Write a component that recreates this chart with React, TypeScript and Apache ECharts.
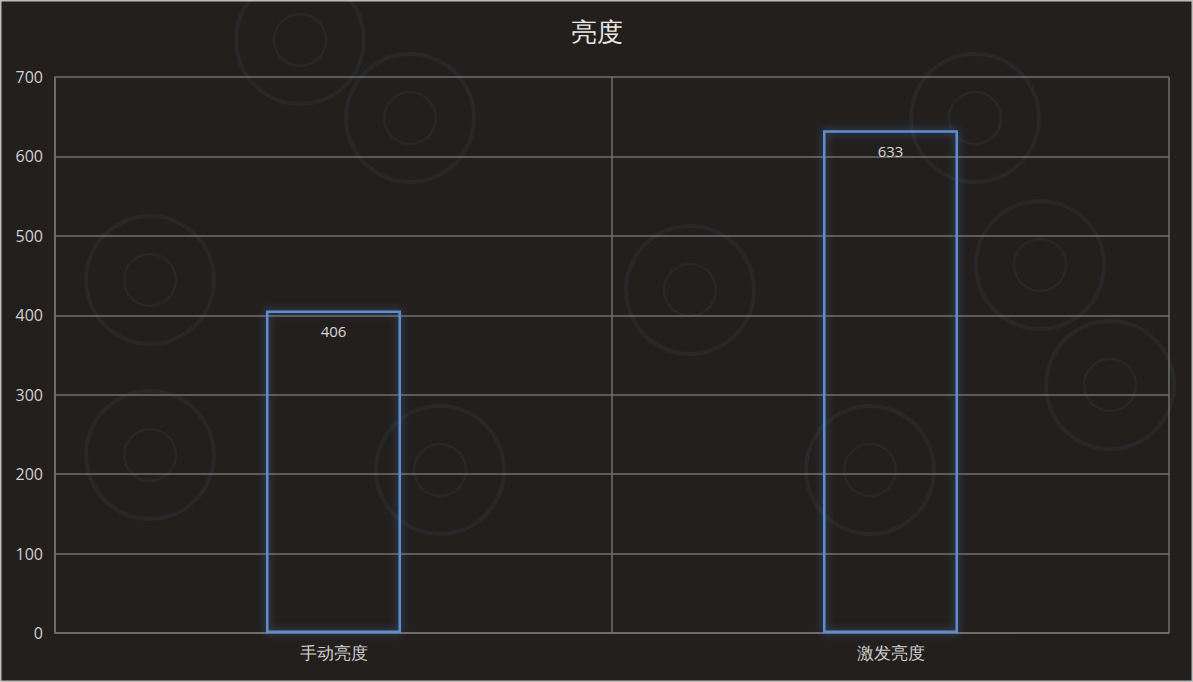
import React, { useEffect, useRef } from "react";
import * as echarts from "echarts";

const title = "亮度";
const categories = ["手动亮度", "激发亮度"];
const values = [406, 633];
const yTicks = { min: 0, max: 700, interval: 100 };

// decorative faint "O" shapes in the background watermark
const rings: [number, number][] = [
  [410, 118], [440, 470], [975, 118], [1040, 265], [690, 290],
  [150, 280], [150, 455], [870, 470], [1110, 385], [300, 40],
];

export default function App() {
  const ref = useRef<HTMLDivElement>(null);
  useEffect(() => {
    const chart = echarts.init(ref.current!, undefined, { renderer: "svg" });
    const ringGraphics: any[] = [];
    rings.forEach(([x, y]) => {
      ringGraphics.push({
        type: "circle", shape: { cx: x, cy: y, r: 64 }, silent: true, z: -10,
        style: { fill: "none", stroke: "rgba(48,56,68,0.35)", lineWidth: 4 },
      });
      ringGraphics.push({
        type: "circle", shape: { cx: x, cy: y, r: 26 }, silent: true, z: -10,
        style: { fill: "none", stroke: "rgba(48,56,68,0.35)", lineWidth: 2.5 },
      });
    });
    chart.setOption({
      animation: false,
      backgroundColor: "#231f1d",
      title: {
        text: title,
        left: "center",
        top: 14,
        textStyle: { color: "#e8e8e8", fontSize: 26, fontWeight: "normal", fontFamily: "serif" },
      },
      graphic: [
        ...ringGraphics,
        {
          type: "rect", shape: { x: 0.5, y: 0.5, width: 1192, height: 681 }, silent: true, z: 100,
          style: { fill: "none", stroke: "#bdbdbd", lineWidth: 2 },
        },
      ],
      grid: { left: 55, right: 24, top: 77, bottom: 49 },
      xAxis: {
        type: "category",
        data: categories,
        axisLine: { show: true, lineStyle: { color: "#707070", width: 1.5 } },
        axisTick: { show: false },
        splitLine: { show: true, lineStyle: { color: "#707070", width: 1.5 } },
        axisLabel: { color: "#d0d0d0", fontSize: 17, margin: 12, fontFamily: "serif" },
      },
      yAxis: {
        type: "value",
        min: yTicks.min,
        max: yTicks.max,
        interval: yTicks.interval,
        axisLine: { show: true, lineStyle: { color: "#707070", width: 1.5 } },
        axisTick: { show: false },
        splitLine: { show: true, lineStyle: { color: "#707070", width: 1.5 } },
        axisLabel: { color: "#d0d0d0", fontSize: 16, margin: 12, fontFamily: "Open Sans, sans-serif" },
      },
      series: [
        {
          type: "bar",
          data: values,
          barWidth: 135,
          itemStyle: {
            color: "rgba(0,0,0,0)",
            borderColor: "#5d8fd0",
            borderWidth: 2.5,
            shadowBlur: 8,
            shadowColor: "rgba(80,130,200,0.7)",
          },
          label: {
            show: true,
            position: "insideTop",
            distance: 13,
            color: "#d6d6d6",
            fontSize: 15,
            fontFamily: "Open Sans, sans-serif",
          },
        },
      ],
    });
    return () => chart.dispose();
  }, []);
  return (
    <div
      ref={ref}
      style={{ position: "fixed", left: 0, top: 0, width: 1193, height: 682 }}
    />
  );
}
